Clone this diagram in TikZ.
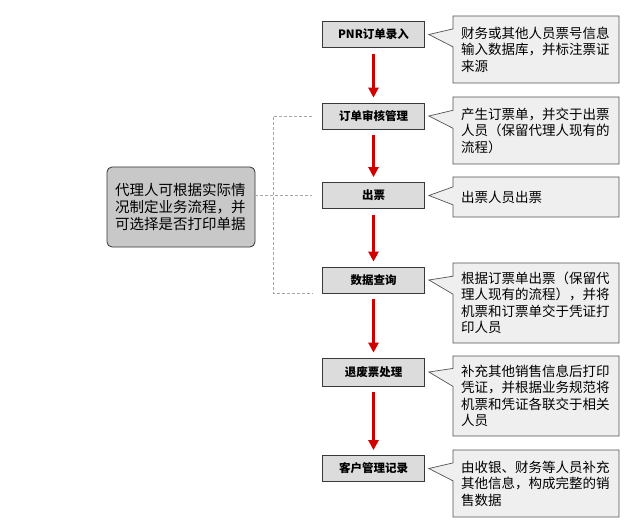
\documentclass[tikz,border=0pt]{standalone}
\usepackage{fontspec}
\setmainfont{Noto Sans CJK SC}
\usetikzlibrary{arrows.meta,shapes.callouts}
\definecolor{boxfill}{HTML}{DCDCDC}
\definecolor{notefill}{HTML}{EFEFEF}
\definecolor{leftfill}{HTML}{C8C8C8}
\definecolor{flowred}{HTML}{D00000}
\begin{document}
\begin{tikzpicture}[x=1pt,y=-1pt,
  stepbox/.style={draw=gray!45!black,fill=boxfill,line width=0.8pt,minimum width=102pt,minimum height=26pt,inner sep=0pt,font=\fontsize{11.5pt}{14pt}\selectfont\bfseries},
  note/.style={shape=rectangle callout,draw=gray!65!black,fill=notefill,line width=0.7pt,minimum width=166pt,text width=150pt,align=left,callout pointer width=18pt,font=\fontsize{13.5pt}{16.5pt}\selectfont},
  agent/.style={draw=gray!40!black,fill=leftfill,line width=0.8pt,rounded corners=5pt,minimum width=148pt,minimum height=80pt,text width=132pt,align=left,font=\fontsize{14.5pt}{17pt}\selectfont},
  flow/.style={draw=flowred,line width=3pt,-{Triangle[width=10pt,length=10pt]},shorten <=6pt,shorten >=5pt},
  link/.style={draw=gray!70,line width=0.6pt,densely dashed}]
\useasboundingbox (0,0) rectangle (627,524);
\node[stepbox] (b1) at (373.5,34.5) {PNR订单录入};
\node[stepbox] (b2) at (373.5,116) {订单审核管理};
\node[stepbox] (b3) at (373.5,195.5) {出票};
\node[stepbox] (b4) at (373.5,280) {数据查询};
\node[stepbox,minimum height=28pt] (b5) at (373.5,372) {退废票处理};
\node[stepbox] (b6) at (373.5,468.5) {客户管理记录};
\node[note,minimum height=67pt,callout absolute pointer={([xshift=4pt]b1.east)}] (n1) at (536,49.5) {财务或其他人员票号信息\\输入数据库，并标注票证\\来源};
\node[note,minimum height=67pt,callout absolute pointer={([xshift=4pt]b2.east)}] (n2) at (536,130.5) {产生订票单，并交于出票\\人员（保留代理人现有的\\流程）};
\node[note,minimum height=40pt,callout absolute pointer={([xshift=4pt]b3.east)}] (n3) at (536,197) {出票人员出票};
\node[note,minimum height=80pt,callout absolute pointer={([xshift=4pt]b4.east)}] (n4) at (536,303) {根据订票单出票（保留代\\理人现有的流程），并将\\机票和订票单交于凭证打\\印人员};
\node[note,minimum height=80pt,callout absolute pointer={([xshift=4pt]b5.east)}] (n5) at (536,396) {补充其他销售信息后打印\\凭证，并根据业务规范将\\机票和凭证各联交于相关\\人员};
\node[note,minimum height=67pt,callout absolute pointer={([xshift=4pt]b6.east)}] (n6) at (536,483.5) {由收银、财务等人员补充\\其他信息，构成完整的销\\售数据};
\node[agent] (lb) at (181,207) {代理人可根据实际情\\况制定业务流程，并\\可选择是否打印单据};
\foreach \a/\b in {b1/b2,b2/b3,b3/b4,b4/b5,b5/b6}
  \draw[flow] (\a) -- (\b);
\draw[link] ([xshift=-10pt]b2.west) -- ([xshift=-49pt]b2.west) |- ([xshift=-10pt]b4.south west);
\draw[link] (lb.east |- b3) -- ([xshift=-10pt]b3.west);
\end{tikzpicture}
\end{document}
